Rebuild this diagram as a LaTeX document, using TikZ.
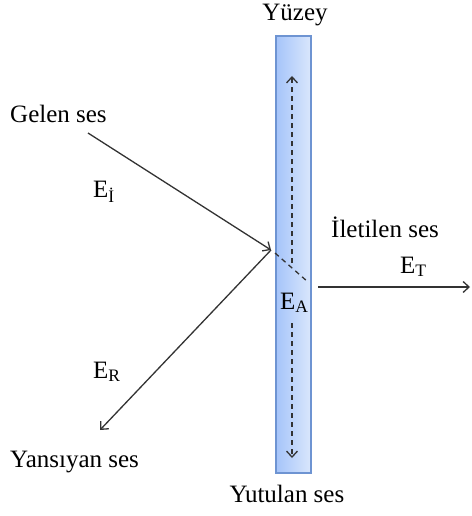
\documentclass[tikz,border=0pt]{standalone}
\usepackage{fontspec}
\setmainfont{Liberation Serif}
\usetikzlibrary{arrows.meta}

\begin{document}
\begin{tikzpicture}[x=1pt,y=-1pt,
			ray/.style={draw=black!80,line width=1.3pt,-{Straight Barb[length=6pt,width=11pt]}},
			inner/.style={draw=black!80,line width=1.3pt,dash pattern=on 5pt off 4pt},
			lbl/.style={font=\fontsize{25}{29}\selectfont,inner sep=0pt},
			wall/.style={draw={rgb,255:red,110;green,148;blue,210},line width=1.3pt,
				left color={rgb,255:red,165;green,196;blue,250},
				right color={rgb,255:red,218;green,231;blue,252}}]
			
			\useasboundingbox (0,0) rectangle (471,516);
			
			% Surface
			\path[wall] (276,36) rectangle (311,473);
			\node[lbl,anchor=base] (yuzey) at (295,21) {Yüzey};
			\node[lbl,anchor=base] (yutulan) at (287,502) {Yutulan ses};
			
			% Ray points
			\coordinate (src) at (88,133);
			\coordinate (hit) at (271,250);
			\coordinate (refl) at (100,430);
			\coordinate (exitin) at (275,253);
			\coordinate (exitout) at (308,282);
			\coordinate (tstart) at (318,287);
			\coordinate (tend) at (470,287);
			\coordinate (upa) at (292,263);
			\coordinate (upb) at (292,76);
			\coordinate (dna) at (292,323);
			\coordinate (dnb) at (292,458);
			
			% Incident and reflected sound
			\draw[ray] (src) -- (hit);
			\draw[ray] (hit) -- (refl);
			\node[lbl,anchor=base west] (gelen) at (10,122) {Gelen ses};
			\node[lbl,anchor=base west] (ei) at (93,197) {E\textsubscript{İ}};
			\node[lbl,anchor=base west] (er) at (93,378) {E\textsubscript{R}};
			\node[lbl,anchor=base west] (yansiyan) at (10,467) {Yansıyan ses};
			
			% Absorbed sound inside the surface
			\draw[inner] (exitin) -- (exitout);
			\draw[inner,-{Straight Barb[length=6pt,width=11pt]}] (upa) -- (upb);
			\draw[inner,-{Straight Barb[length=6pt,width=11pt]}] (dna) -- (dnb);
			\node[lbl,anchor=base west] (ea) at (280,309) {E\textsubscript{A}};
			
			% Transmitted sound
			\draw[ray] (tstart) -- (tend);
			\node[lbl,anchor=base west] (iletilen) at (331,237) {İletilen ses};
			\node[lbl,anchor=base west] (et) at (400,273) {E\textsubscript{T}};
			
		\end{tikzpicture}
\end{document}
